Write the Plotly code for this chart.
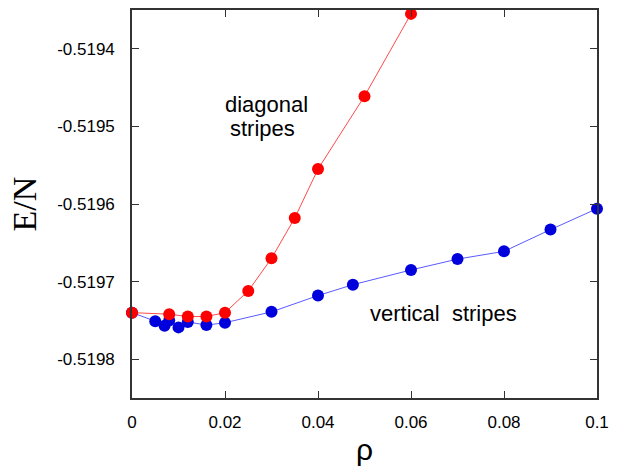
import plotly.graph_objects as go

red_x = [0, 0.008, 0.012, 0.016, 0.02, 0.025, 0.03, 0.035, 0.04, 0.05, 0.06]
red_y = [-0.519740, -0.519742, -0.519745, -0.519745, -0.519740, -0.519712,
         -0.519670, -0.519618, -0.519555, -0.519461, -0.519355]

blue_x = [0, 0.005, 0.007, 0.008, 0.01, 0.012, 0.016, 0.02, 0.03, 0.04, 0.0475,
          0.06, 0.07, 0.08, 0.09, 0.1]
blue_y = [-0.519740, -0.519751, -0.519757, -0.519750, -0.519759, -0.519752,
          -0.519756, -0.519753, -0.519739, -0.519718, -0.519704,
          -0.519685, -0.519671, -0.519661, -0.519633, -0.519606]

x_ticks = [0, 0.02, 0.04, 0.06, 0.08, 0.1]
x_labels = ["0", "0.02", "0.04", "0.06", "0.08", "0.1"]
y_ticks = [-0.5198, -0.5197, -0.5196, -0.5195, -0.5194]
y_labels = ["-0.5198", "-0.5197", "-0.5196", "-0.5195", "-0.5194"]

SANS = "Liberation Sans, Arial, Helvetica"

fig = go.Figure()
fig.add_trace(go.Scatter(x=blue_x, y=blue_y, mode="lines+markers",
                         line=dict(color="#5a5aff", width=1),
                         marker=dict(color="#0000dd", size=12),
                         cliponaxis=False, showlegend=False))
fig.add_trace(go.Scatter(x=red_x, y=red_y, mode="lines+markers",
                         line=dict(color="#ff4a4a", width=1),
                         marker=dict(color="#ff0000", size=12),
                         cliponaxis=False, showlegend=False))

fig.add_annotation(x=0.02903, y=-0.519472, text="diagonal", showarrow=False,
                   font=dict(family=SANS, size=22, color="black"))
fig.add_annotation(x=0.02817, y=-0.519503, text="stripes", showarrow=False,
                   font=dict(family=SANS, size=22, color="black"))
fig.add_annotation(x=0.06703, y=-0.519741, text="vertical&nbsp;&nbsp;stripes", showarrow=False,
                   font=dict(family=SANS, size=22, color="black"))

axis_common = dict(showline=True, linecolor="#333", linewidth=1.5, mirror="ticks",
                   ticks="inside", ticklen=7, tickcolor="#333", showgrid=False,
                   zeroline=False,
                   tickfont=dict(family=SANS, size=17, color="black"))

fig.update_xaxes(range=[0, 0.1], tickvals=x_ticks, ticktext=x_labels,
                 ticklabelstandoff=8,
                 title=dict(text="ρ", font=dict(family=SANS, size=30, color="black"),
                            standoff=8),
                 **axis_common)
fig.update_yaxes(range=[-0.51985, -0.51935], tickvals=y_ticks, ticktext=y_labels,
                 ticklabelstandoff=12,
                 title=dict(text="E/N", font=dict(family="Liberation Serif, Times New Roman", size=34, color="black"),
                            standoff=10),
                 **axis_common)

fig.update_layout(width=631, height=472, plot_bgcolor="white", paper_bgcolor="white",
                  margin=dict(l=132, r=34, t=8, b=74))

fig.write_html("out.html")
